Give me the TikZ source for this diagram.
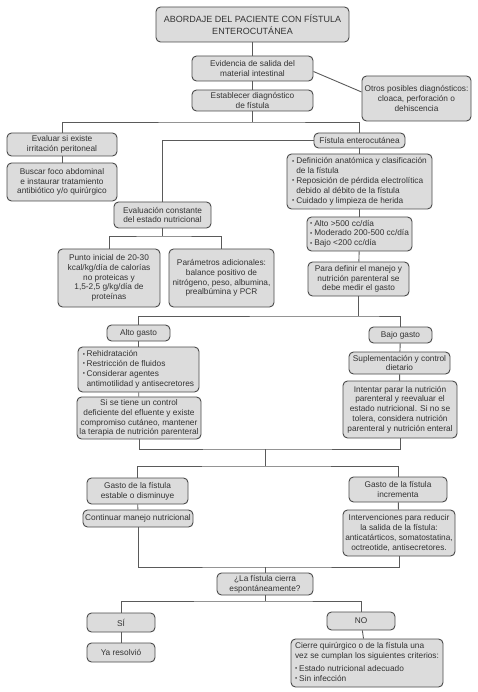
\documentclass[tikz,border=0pt]{standalone}
\usepackage{fontspec}
\setmainfont{Liberation Sans}
\definecolor{boxfill}{HTML}{DCDCDC}
\definecolor{boxline}{HTML}{4A4A4A}
\definecolor{conn}{HTML}{5A5A5A}
\definecolor{txt}{HTML}{333333}
\newcommand{\bul}{\raisebox{0.15ex}{\scalebox{0.75}{•}}}
\tikzset{
  box/.style={draw=boxline, fill=boxfill, rounded corners=4.5pt, line width=0.9pt,
    inner sep=1pt, align=center, text=txt,
    font=\fontsize{8.3}{9.8}\selectfont},
  titlebox/.style={box, font=\fontsize{9}{12}\selectfont},
  lbox/.style={box, align=left},
  link/.style={draw=conn, line width=0.9pt},
}
\newcommand{\bx}[5]{\node[#1, minimum width=#4 pt, minimum height=#5 pt] (#2) at #3}
\begin{document}
\begin{tikzpicture}[x=1pt, y=-1pt]
\useasboundingbox (0,0) rectangle (477,692);
% nodes
\bx{titlebox}{title}{(252.5,24.5)}{193}{35} {ABORDAJE DEL PACIENTE CON FÍSTULA\\ENTEROCUTÁNEA};
\bx{box}{evid}{(252.5,68.5)}{121}{25} {Evidencia de salida del\\material intestinal};
\bx{box}{otros}{(416.5,98.5)}{109}{45} {Otros posibles diagnósticos:\\cloaca, perforación o\\dehiscencia};
\bx{box}{estab}{(252.5,100.5)}{121}{21} {Establecer diagnóstico\\de fístula};
\bx{box}{evaluar}{(62,144.5)}{110}{23} {Evaluar si existe\\irritación peritoneal};
\bx{box}{buscar}{(62,182)}{110}{38} {Buscar foco abdominal\\e instaurar tratamiento\\antibiótico y/o quirúrgico};
\bx{box}{fistula}{(359.5,140.5)}{91}{15} {Fístula enterocutánea};
\bx{lbox}{defin}{(359.5,181.5)}{145}{55} {\begin{tabular}{@{}l@{\hspace{2pt}}l@{}}
\bul & Definición anatómica y clasificación\\ & de la fístula\\
\bul & Reposición de pérdida electrolítica\\ & debido al débito de la fístula\\
\bul & Cuidado y limpieza de herida\end{tabular}};
\bx{lbox}{niveles}{(359.5,234)}{105}{34} {\begin{tabular}{@{}l@{\hspace{2pt}}l@{}}
\bul & Alto >500 cc/día\\ \bul & Moderado 200-500 cc/día\\ \bul & Bajo <200 cc/día\end{tabular}};
\bx{box}{para}{(358.5,279)}{101}{34} {Para definir el manejo y\\nutrición parenteral se\\debe medir el gasto};
\bx{box}{evalc}{(162.5,215)}{97}{26} {Evaluación constante\\del estado nutricional};
\bx{box}{punto}{(109,278)}{102}{58} {Punto inicial de 20-30\\kcal/kg/día de calorías\\no proteicas y\\1,5-2,5 g/kg/día de\\proteínas};
\bx{box}{param}{(221.5,278)}{105}{58} {Parámetros adicionales:\\balance positivo de\\nitrógeno, peso, albumina,\\prealbúmina y PCR};
\bx{box}{altog}{(138.5,333)}{63}{16} {Alto gasto};
\bx{box}{bajog}{(400.5,335)}{63}{16} {Bajo gasto};
\bx{lbox}{altolist}{(138.5,369.5)}{121}{45} {\begin{tabular}{@{}l@{\hspace{1.5pt}}l@{}}
\bul & Rehidratación\\ \bul & Restricción de fluidos\\ \bul & Considerar agentes\\ & antimotilidad y antisecretores\end{tabular}};
\bx{box}{sise}{(139,418)}{124}{42} {Si se tiene un control\\deficiente del efluente y existe\\compromiso cutáneo, mantener\\la terapia de nutrición parenteral};
\bx{box}{suple}{(399.5,363)}{101}{22} {Suplementación y control\\dietario};
\bx{box}{intentar}{(400,409.5)}{114}{57} {Intentar parar la nutrición\\parenteral y reevaluar el\\estado nutricional. Si no se\\tolera, considera nutrición\\parenteral y nutrición enteral};
\bx{box}{gestable}{(137.5,491)}{101}{26} {Gasto de la fístula\\estable o disminuye};
\bx{box}{ginc}{(398,489.5)}{98}{25} {Gasto de la fístula\\incrementa};
\bx{box}{contin}{(138,518.5)}{110}{17} {Continuar manejo nutricional};
\bx{box}{interv}{(399,533)}{112}{46} {Intervenciones para reducir\\la salida de la fístula:\\anticatárticos, somatostatina,\\octreotide, antisecretores.};
\bx{box}{lafis}{(265,584)}{96}{22} {¿La fístula cierra\\espontáneamente?};
\bx{box}{si}{(121,622.5)}{68}{19} {SÍ};
\bx{box}{no}{(361,621)}{68}{18} {NO};
\bx{box}{ya}{(121,652.5)}{68}{19} {Ya resolvió};
\bx{lbox}{cierre}{(367,663)}{152}{48} {\begin{tabular}{@{}l@{\hspace{2pt}}l@{}}
\multicolumn{2}{@{}l@{}}{Cierre quirúrgico o de la fístula una}\\
\multicolumn{2}{@{}l@{}}{vez se cumplan los siguientes criterios:}\\[3pt]
\bul & Estado nutricional adecuado\\ \bul & Sin infección\end{tabular}};
% junction coordinates
\coordinate (j1) at (252.5,122);
\coordinate (j2) at (162.5,236);
\coordinate (j3) at (358.5,316);
\coordinate (j4) at (265,449);
\coordinate (j5) at (265,466);
\coordinate (j6) at (265,567);
\coordinate (j7) at (265,601);
% connectors
\draw[link] (title) -- (evid);
\draw[link] (evid) -- (estab);
\draw[link] ([yshift=-3pt]evid.east) -- ([yshift=6.5pt]otros.west);
\draw[link] (estab) -- (j1);
\draw[link] (evaluar.north) |- (j1) -| (fistula.north);
\draw[link] (evaluar) -- (buscar);
\draw[link] (fistula.west) -| (evalc.north);
\draw[link] (fistula) -- (defin);
\draw[link] (defin) -- (niveles);
\draw[link] (niveles) -- (para);
\draw[link] (evalc) -- (j2);
\draw[link] (punto.north) |- (j2) -| (param.north);
\draw[link] (para) -- (j3);
\draw[link] (altog.north) |- (j3) -| (bajog.north);
\draw[link] (altog) -- (altolist);
\draw[link] (altolist) -- (sise);
\draw[link] (bajog) -- (suple);
\draw[link] (suple) -- (intentar);
\draw[link] (sise.south) |- (j4) -| (intentar.south);
\draw[link] (j4) -- (j5);
\draw[link] (gestable.north) |- (j5) -| (ginc.north);
\draw[link] (gestable) -- (contin);
\draw[link] (ginc) -- (interv);
\draw[link] (contin.south) |- (j6) -| (interv.south);
\draw[link] (j6) -- (lafis);
\draw[link] (lafis) -- (j7);
\draw[link] (si.north) |- (j7) -| (no.north);
\draw[link] (si) -- (ya);
\draw[link] (no) -- (cierre);
\end{tikzpicture}
\end{document}
